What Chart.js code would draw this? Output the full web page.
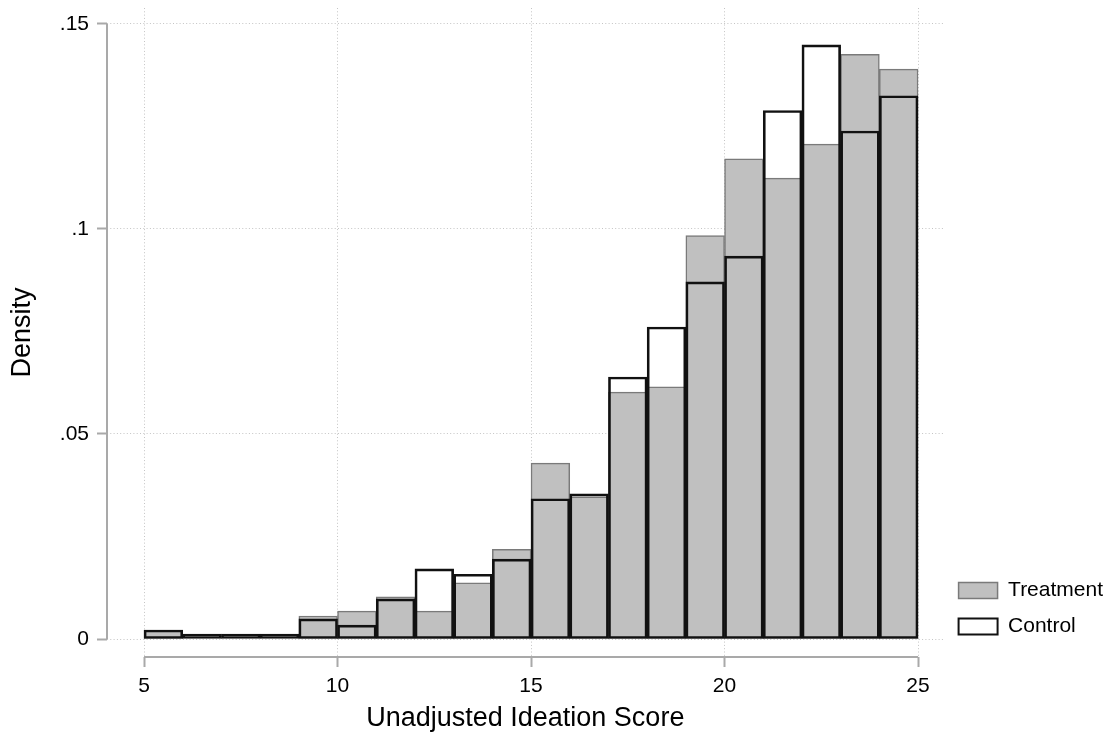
<!DOCTYPE html>
<html>
<head>
<meta charset="utf-8">
<title>Unadjusted Ideation Score histogram</title>
<script src="https://cdn.jsdelivr.net/npm/chart.js@4.4.1/dist/chart.umd.min.js"></script>
<style>
  html, body { margin: 0; padding: 0; background: #fff; }
  #wrap { width: 1116px; height: 735px; position: relative; }
</style>
</head>
<body>
<div id="wrap"><canvas id="histChart"></canvas></div>
<script>
// Histogram data: left edges of the 1-point bins and density per group
const binStarts = [5, 6, 7, 8, 9, 10, 11, 12, 13, 14, 15, 16, 17, 18, 19, 20, 21, 22, 23, 24];
const treatment = [0.0022, 0, 0, 0, 0.0056, 0.0068, 0.0103, 0.0068, 0.0137, 0.0219,
                   0.0429, 0.0347, 0.0602, 0.0615, 0.0984, 0.1171, 0.1124, 0.1207, 0.1426, 0.1390];
const control   = [0.0022, 0.0012, 0.0012, 0.0012, 0.0049, 0.0034, 0.0098, 0.0171, 0.0158, 0.0195,
                   0.0342, 0.0354, 0.0639, 0.0761, 0.0871, 0.0934, 0.1289, 0.1449, 0.1239, 0.1325];
const xTicks = [5, 10, 15, 20, 25];
const yTicks = [0, 0.05, 0.1, 0.15];

const FONT = "'Liberation Sans', Arial, Helvetica, sans-serif";
const AXIS_GRAY = '#a9a9a9';

const toPoints = (vals) => vals.map((v, i) => ({ x: binStarts[i] + 0.5, y: v }));

// Stata-style axis lines that only span the tick range
const axisLines = {
    id: 'axisLines',
    afterLayout(chart) {
        // lift the legend a little above the bottom of the plot area
        if (chart.legend) chart.legend.bottom -= 5;
    },
    afterDatasetsDraw(chart) {
        const { ctx, chartArea, scales: { x, y } } = chart;
        ctx.save();
        ctx.strokeStyle = AXIS_GRAY;
        ctx.lineWidth = 2;
        ctx.beginPath();
        ctx.moveTo(chartArea.left, y.getPixelForValue(yTicks[0]));
        ctx.lineTo(chartArea.left, y.getPixelForValue(yTicks[yTicks.length - 1]));
        ctx.moveTo(x.getPixelForValue(xTicks[0]), chartArea.bottom);
        ctx.lineTo(x.getPixelForValue(xTicks[xTicks.length - 1]), chartArea.bottom);
        ctx.stroke();
        ctx.restore();
    }
};

const gridOpts = {
    color: '#c4c4c4',
    lineWidth: 1,
    offset: false,
    drawTicks: true,
    tickLength: 10,
    tickColor: AXIS_GRAY,
    tickWidth: 2,
    tickBorderDash: []
};

new Chart(document.getElementById('histChart'), {
    type: 'bar',
    data: {
        datasets: [
            {
                label: 'Control',
                data: toPoints(control),
                backgroundColor: 'rgba(255,255,255,0)',
                borderColor: '#111111',
                borderWidth: 2,
                borderSkipped: false
            },
            {
                label: 'Treatment',
                data: toPoints(treatment),
                backgroundColor: '#c0c0c0',
                borderColor: '#7a7a7a',
                borderWidth: 1.5,
                borderSkipped: false
            }
        ]
    },
    options: {
        responsive: true,
        maintainAspectRatio: false,
        animation: false,
        devicePixelRatio: 1,
        layout: { padding: { left: 0, top: 8, right: 3, bottom: 0 } },
        datasets: {
            bar: { grouped: false, categoryPercentage: 1, barPercentage: 1 }
        },
        plugins: {
            tooltip: { enabled: false },
            legend: {
                position: 'right',
                align: 'end',
                fullSize: false,
                labels: {
                    boxWidth: 39,
                    boxHeight: 16,
                    padding: 15,
                    color: '#000',
                    font: { family: FONT, size: 21 },
                    sort: (a, b) => b.datasetIndex - a.datasetIndex
                }
            }
        },
        scales: {
            x: {
                type: 'linear',
                offset: false,
                min: 4.0427,
                max: 25.66,
                afterBuildTicks: (scale) => { scale.ticks = xTicks.map(v => ({ value: v })); },
                afterFit: (scale) => {
                    scale.height = 78;
                    scale.paddingLeft = 0;
                    scale.paddingRight = 0;
                },
                grid: gridOpts,
                border: { display: false, dash: [1, 2.3] },
                ticks: {
                    color: '#000',
                    padding: 7,
                    maxRotation: 0,
                    font: { family: FONT, size: 21 },
                    callback: (v) => String(v)
                },
                title: {
                    display: true,
                    text: 'Unadjusted Ideation Score',
                    color: '#000',
                    font: { family: FONT, size: 27 },
                    padding: { top: 0, bottom: 0 }
                }
            },
            y: {
                type: 'linear',
                min: -0.00439,
                max: 0.1539,
                afterBuildTicks: (scale) => { scale.ticks = yTicks.map(v => ({ value: v })); },
                afterFit: (scale) => {
                    scale.width = 107;
                    scale.paddingTop = 0;
                    scale.paddingBottom = 0;
                },
                grid: gridOpts,
                border: { display: false, dash: [1, 2.3] },
                ticks: {
                    color: '#000',
                    padding: 8,
                    font: { family: FONT, size: 21 },
                    callback: (v) => v === 0 ? '0' : String(v).replace(/^0\./, '.')
                },
                title: {
                    display: true,
                    text: 'Density',
                    color: '#000',
                    font: { family: FONT, size: 27 },
                    padding: { top: 6, bottom: 0 }
                }
            }
        }
    },
    plugins: [axisLines]
});
</script>
</body>
</html>
